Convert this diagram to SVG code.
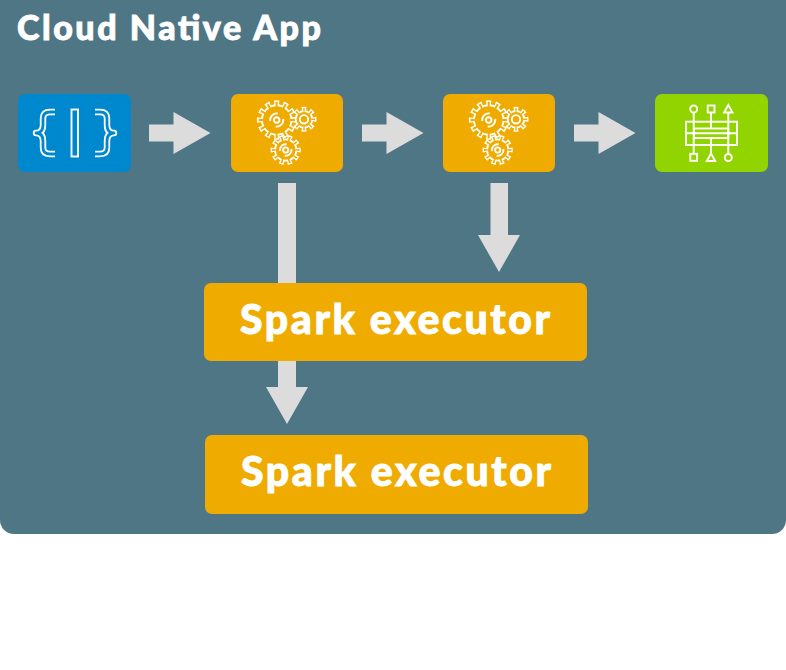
<svg xmlns="http://www.w3.org/2000/svg" width="786" height="670" viewBox="0 0 786 670">
<style>
.box{rx:7px;ry:7px}
.o{fill:#f0ab00}
.arrow{fill:#dcdcdc}
.t{font-family:"Lato","Noto Sans","Liberation Sans",sans-serif;font-weight:900;fill:#fff;stroke:#fff;stroke-width:.9}
.i{fill:none;stroke:#fff;stroke-width:1.9}
.gw{fill:none;stroke:#fff}
.go{fill:none;stroke:#f0ab00}
</style>
<defs>
<g id="gear-l">
<circle class="gw" r="17.200" stroke-width="5.200" pathLength="24" stroke-dasharray="1.100 0.900" stroke-dashoffset="0.550"/>
<circle r="15.700" fill="#fff"/>
<circle class="go" r="15.600" stroke-width="5.200" pathLength="24" stroke-dasharray="0.500 1.500" stroke-dashoffset="0.250"/>
<circle r="13.800" class="o"/>
<circle class="i" r="2.800"/>
<path class="i" d="M-6.500 1A6.600 6.600 0 0 1 1 -6.500M6.500 -1A6.600 6.600 0 0 1 -1 6.500"/>
</g>
<g id="gear-m">
<circle class="gw" r="12.900" stroke-width="4.400" pathLength="20" stroke-dasharray="1.100 0.900" stroke-dashoffset="0.550"/>
<circle r="11.600" fill="#fff"/>
<circle class="go" r="11.500" stroke-width="4.400" pathLength="20" stroke-dasharray="0.450 1.550" stroke-dashoffset="0.225"/>
<circle r="9.800" class="o"/>
<circle class="i" r="2.600"/>
<path class="i" d="M-5.700 1A5.800 5.800 0 0 1 1 -5.700M5.700 -1A5.800 5.800 0 0 1 -1 5.700"/>
</g>
<g id="gear-s">
<circle class="gw" r="10.500" stroke-width="4" pathLength="16" stroke-dasharray="1.100 0.900" stroke-dashoffset="0.550"/>
<circle r="9.200" fill="#fff"/>
<circle class="go" r="9.100" stroke-width="4" pathLength="16" stroke-dasharray="0.400 1.600" stroke-dashoffset="0.200"/>
<circle r="7.400" class="o"/>
<circle class="i" r="4.200"/>
</g>
<g id="gears">
<use href="#gear-s" x="304" y="119.300"/>
<use href="#gear-m" x="285.700" y="150"/>
<use href="#gear-l" x="276.700" y="120"/>
</g>
</defs>
<g id="app">
<rect x="0" y="-14" width="786" height="548" rx="14" ry="14" fill="#4f7685"/>
<text class="t" x="17" y="39.500" font-size="34" textLength="304" lengthAdjust="spacing">Cloud Native App</text>
</g>
<g id="connectors">
<path class="arrow" d="M149 124.500H173.500V112L210.500 133L173.500 154V141.500H149Z"/>
<path class="arrow" d="M362 124.500H386.500V112L423.500 133L386.500 154V141.500H362Z"/>
<path class="arrow" d="M574 124.500H598.500V112L635.500 133L598.500 154V141.500H574Z"/>
<path class="arrow" d="M278 183H296V387H308L287 424L266 387H278Z"/>
<path class="arrow" d="M490.500 183H508V235H520L499 272L478 235H490.500Z"/>
</g>
<g id="source">
<rect class="box" x="18" y="94" width="113" height="78" fill="#0088ce"/>
<g fill="none" stroke-linejoin="round">
<path stroke="#fff" stroke-width="6.400" d="M55 112H50Q43 112 43 118.500V125Q43 133 36 133Q43 133 43 141V147.500Q43 154 50 154H55"/>
<path stroke="#0088ce" stroke-width="2.800" stroke-linecap="square" d="M55 112H50Q43 112 43 118.500V125Q43 133 36 133Q43 133 43 141V147.500Q43 154 50 154H55"/>
<path stroke="#fff" stroke-width="6.400" d="M95 112H100Q107 112 107 118.500V125Q107 133 114 133Q107 133 107 141V147.500Q107 154 100 154H95"/>
<path stroke="#0088ce" stroke-width="2.800" stroke-linecap="square" d="M95 112H100Q107 112 107 118.500V125Q107 133 114 133Q107 133 107 141V147.500Q107 154 100 154H95"/>
</g>
<rect class="i" x="71.500" y="109.500" width="6.500" height="47"/>
</g>
<g id="process-1">
<rect class="box o" x="231" y="94" width="112" height="78"/>
<use href="#gears"/>
</g>
<g id="process-2">
<rect class="box o" x="443" y="94" width="112" height="78"/>
<use href="#gears" x="212"/>
</g>
<g id="sink">
<rect class="box" x="655" y="94" width="113" height="78" fill="#92d400"/>
<g class="i">
<circle cx="693.700" cy="109" r="3.500"/>
<rect x="707.700" y="105.500" width="6.800" height="7"/>
<path d="M728.300 105L732.500 112.500H724.100Z"/>
<rect x="686" y="121.700" width="51" height="23.300"/>
<rect x="694" y="128.500" width="34.300" height="9.500"/>
<path d="M686 133.200H737M693.700 112.500V153.500M711 112.500V128.500M711 138V153.500M728.300 112.500V153.500"/>
<rect x="690.300" y="153.800" width="6.800" height="7"/>
<path d="M711 153.500L715.200 161H706.800Z"/>
<circle cx="728.300" cy="157.500" r="3.500"/>
</g>
</g>
<g id="executor-1">
<rect class="box o" x="204" y="283" width="383" height="78"/>
<text class="t" x="240" y="333.500" font-size="41" textLength="310" lengthAdjust="spacing">Spark executor</text>
</g>
<g id="executor-2">
<rect class="box o" x="205" y="435" width="383" height="79"/>
<text class="t" x="241" y="485.500" font-size="41" textLength="310" lengthAdjust="spacing">Spark executor</text>
</g>
</svg>
